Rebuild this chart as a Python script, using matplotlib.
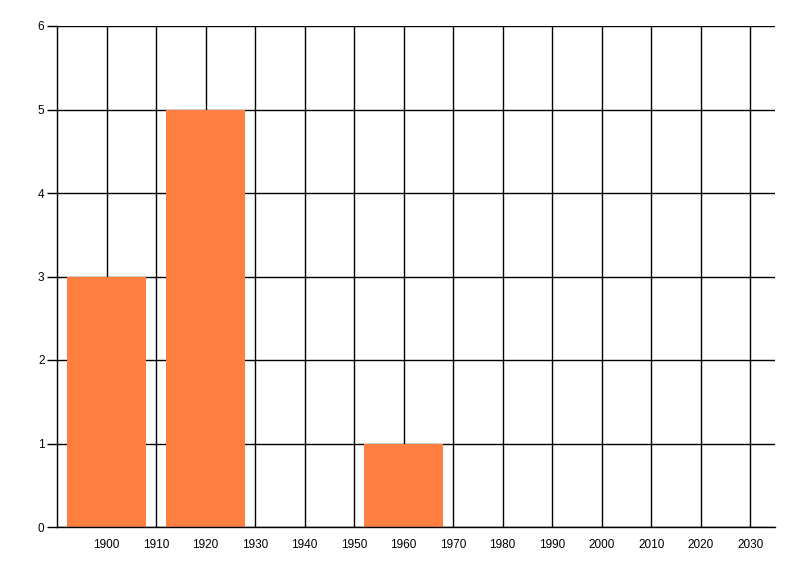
import matplotlib
matplotlib.use("Agg")
import matplotlib.pyplot as plt

years = [1900, 1920, 1960]
counts = [3, 5, 1]
xticks = list(range(1900, 2031, 10))
yticks = list(range(0, 7))

plt.rcParams['font.family'] = ['Liberation Sans', 'DejaVu Sans']

fig = plt.figure(figsize=(8, 5.76), dpi=100)
ax = fig.add_axes([57/800, 1-527/576, (775-57)/800, (527-26)/576])

ax.bar(years, counts, width=16, color='#FF7F40', zorder=2)

ax.set_xlim(1890, 2035)
ax.set_ylim(0, 6)
ax.set_xticks(xticks)
ax.set_yticks(yticks)
ax.grid(True, color='black', linewidth=1.0, zorder=1)
ax.set_axisbelow(True)

for s in ['top', 'right']:
    ax.spines[s].set_visible(False)
for s in ['left', 'bottom']:
    ax.spines[s].set_linewidth(1.0)

ax.tick_params(axis='x', length=0, pad=9, labelsize=8.5)
ax.tick_params(axis='y', length=7, width=1.0, pad=2, labelsize=8.5)

fig.savefig('out.png', dpi=100)
